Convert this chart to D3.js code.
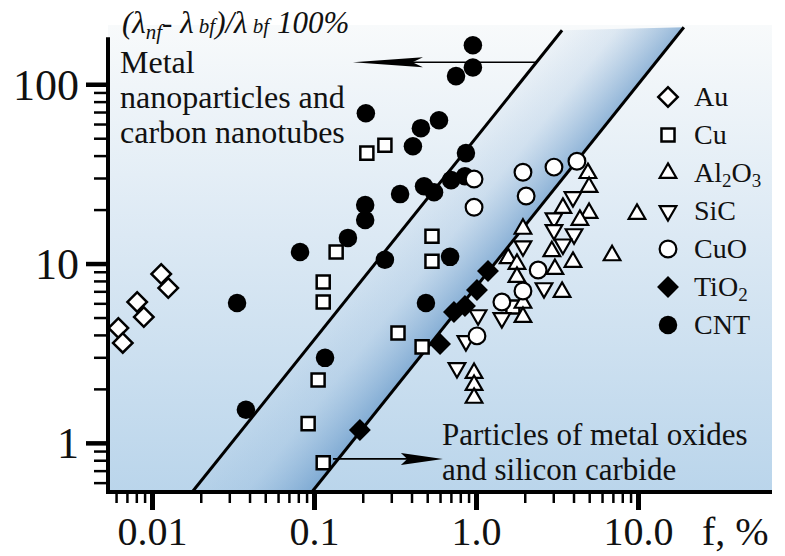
<!DOCTYPE html>
<html>
<head>
<meta charset="utf-8">
<script src="https://cdn.jsdelivr.net/npm/d3@7"></script>
<style>
  html, body { margin:0; padding:0; background:#fff; }
  svg { display:block; font-family:"Liberation Serif", "DejaVu Serif", serif; }
</style>
</head>
<body>
<div id="chart"></div>
<script>
// values: [f %, enhancement %]
const au   = [[0.0062,4.37],[0.0066,3.61],[0.0081,6.1],[0.0089,5.03],[0.0114,8.74],[0.0126,7.3]];
const cu   = [[0.212,41.3],[0.274,45.7],[0.137,11.6],[0.114,7.89],[0.114,6.1],[0.535,14.2],[0.535,10.3],
              [0.106,2.24],[0.092,1.28],[0.114,0.774],[0.33,4.1],[0.465,3.43],[1.69,5.72]];
const al2o3= [[4.91,31.9],[4.99,26.7],[3.44,20.4],[4.99,19.1],[4.38,17.5],[9.86,18.9],[1.95,15.6],
              [2.94,11.7],[3.97,10.2],[6.92,11.1],[1.58,10.7],[1.79,9.94],[3.07,9.31],[1.79,8.41],
              [3.4,6.94],[1.95,6.03],[1.95,5.03],[0.973,2.45],[0.973,2.1],[0.973,1.78]];
const sic  = [[3.97,23.5],[3.03,17.9],[3.03,15.4],[4.03,14.6],[3.44,12.8],[1.95,12.5],[2.63,7.3],
              [1.03,5.16],[1.445,4.97],[0.867,3.7],[0.763,2.62]];
const cuo  = [[0.973,29.6],[0.973,20.6],[1.95,32.3],[2.04,23.8],[3.03,34.5],[4.2,37.2],[2.42,9.2],
              [1.95,7.03],[1.445,6.1],[1.014,3.95]];
const tio2 = [[0.192,1.18],[0.6,3.56],[0.731,5.37],[0.855,5.8],[1.014,7.12],[1.186,9.08]];
const cnt  = [[0.957,165],[0.957,124],[0.753,111],[0.209,68.9],[0.457,56.9],[0.591,63],[0.408,45.1],
              [0.867,41.3],[0.34,24.4],[0.478,27],[0.551,25],[0.702,29.2],[0.855,30.7],[0.207,21.2],
              [0.207,17.5],[0.162,13.9],[0.082,11.6],[0.692,10.9],[0.491,6.03],[0.274,10.5],
              [0.0335,6.03],[0.117,2.98],[0.038,1.53]];

// band borders and arrows, in data units
const bandLeft  = [[0.0177,0.532],[3.4,200]];
const bandRight = [[0.097,0.532],[19.2,208]];
const arrowUp   = [[2.35,132.6],[0.174,132.6]];
const arrowDown = [[0.131,0.814],[0.625,0.814]];

const xMajor = [0.01,0.1,1,10], xLabels = ['0.01','0.1','1.0','10.0'];
const xMinor = [0.006,0.007,0.008,0.009,0.02,0.03,0.04,0.05,0.06,0.07,0.08,0.09,
                0.2,0.3,0.4,0.5,0.6,0.7,0.8,0.9,2,3,4,5,6,7,8,9];
const yMajor = [1,10,100], yLabels = ['1','10','100'];
const yMinor = [0.6,0.7,0.8,0.9,2,3,4,5,6,7,8,9,20,30,40,50,60,70,80,90];

const W=785, H=556;
const svg = d3.select('#chart').append('svg').attr('width',W).attr('height',H);
const defs = svg.append('defs');

const x = d3.scaleLog().domain([0.00535, 67.2]).range([108, 772]);
const y = d3.scaleLog().domain([0.532, 214]).range([492, 25]);
const pt = d => [x(d[0]), y(d[1])];

// background
const bg = defs.append('linearGradient').attr('id','bg').attr('x1',0).attr('y1',0).attr('x2',0).attr('y2',1);
bg.append('stop').attr('offset','0%').attr('stop-color','#f8fafb');
bg.append('stop').attr('offset','45%').attr('stop-color','#dce9f4');
bg.append('stop').attr('offset','100%').attr('stop-color','#bad5eb');
svg.append('rect').attr('x',x.range()[0]).attr('y',y.range()[1])
  .attr('width',x.range()[1]-x.range()[0]).attr('height',y.range()[0]-y.range()[1])
  .attr('fill','url(#bg)');

// band, shaded across its width
const p1 = pt(bandLeft[0]), p2 = pt(bandLeft[1]), q1 = pt(bandRight[0]);
const dx = p2[0]-p1[0], dy = p2[1]-p1[1], len = Math.hypot(dx,dy);
const nx = -dy/len, ny = dx/len;
const dist = (q1[0]-p1[0])*nx + (q1[1]-p1[1])*ny;
const bandGrad = defs.append('linearGradient').attr('id','band').attr('gradientUnits','userSpaceOnUse')
  .attr('x1',p1[0]).attr('y1',p1[1]).attr('x2',p1[0]+nx*dist).attr('y2',p1[1]+ny*dist);
bandGrad.append('stop').attr('offset','0%').attr('stop-color','#7ea8d2').attr('stop-opacity',0.08);
bandGrad.append('stop').attr('offset','45%').attr('stop-color','#7ea8d2').attr('stop-opacity',0.22);
bandGrad.append('stop').attr('offset','100%').attr('stop-color','#5f93c6').attr('stop-opacity',0.65);
svg.append('path')
  .attr('d', d3.line()([pt(bandLeft[0]), pt(bandLeft[1]), pt(bandRight[1]), pt(bandRight[0])]) + 'Z')
  .attr('fill','url(#band)');

const line = d3.line().x(d=>x(d[0])).y(d=>y(d[1]));
[bandLeft, bandRight].forEach(b => svg.append('path').attr('d', line(b))
  .attr('fill','none').attr('stroke','#000').attr('stroke-width',3));

// arrows
function arrow(a, headLen, half){
  const s = pt(a[0]), e = pt(a[1]);
  const dir = Math.sign(e[0]-s[0]);
  svg.append('line').attr('x1',s[0]).attr('y1',s[1]).attr('x2',e[0]-dir*headLen*0.5).attr('y2',e[1])
    .attr('stroke','#000').attr('stroke-width',1.6);
  const b = e[0]-dir*headLen;
  svg.append('path')
    .attr('d',`M${e[0]},${e[1]} L${b},${e[1]-half} L${b+dir*headLen*0.15},${e[1]} L${b},${e[1]+half} Z`)
    .attr('fill','#000');
}
arrow(arrowUp, 70, 5);
arrow(arrowDown, 42, 6);

// axes
const gx = svg.append('g').attr('transform',`translate(0,${y.range()[0]})`);
gx.append('g').call(d3.axisBottom(x).tickValues(xMinor).tickSize(11).tickFormat(''))
  .call(g=>g.selectAll('line').attr('stroke-width',2.5));
gx.append('g').call(d3.axisBottom(x).tickValues(xMajor).tickSize(18).tickFormat((d,i)=>xLabels[i]))
  .call(g=>g.selectAll('line').attr('stroke-width',5))
  .call(g=>g.selectAll('text').attr('y',53).attr('dy',0).attr('font-size',40).attr('fill','#111')
    .attr('font-family','"Liberation Serif", serif'));
gx.selectAll('.domain').remove();
gx.append('line').attr('x1',106).attr('x2',x.range()[1]).attr('stroke','#000').attr('stroke-width',4);

const gy = svg.append('g').attr('transform',`translate(${x.range()[0]},0)`);
gy.append('g').call(d3.axisLeft(y).tickValues(yMinor).tickSize(14).tickFormat(''))
  .call(g=>g.selectAll('line').attr('stroke-width',2.5));
gy.append('g').call(d3.axisLeft(y).tickValues(yMajor).tickSize(22).tickFormat((d,i)=>yLabels[i]))
  .call(g=>g.selectAll('line').attr('stroke-width',4.5))
  .call(g=>g.selectAll('text').attr('x',-29).attr('dy','0.34em').attr('font-size',44).attr('fill','#111')
    .attr('font-family','"Liberation Serif", serif'));
gy.selectAll('.domain').remove();
gy.append('line').attr('y1',y(183)).attr('y2',y.range()[0]+2).attr('stroke','#000').attr('stroke-width',4);

svg.append('text').attr('x',702).attr('y',545).attr('font-size',40).attr('fill','#111').text('f, %');

// series
const series = [
  {name:'Au',    data:au,    type:d3.symbolSquare,   size:190, rot:45,  fill:'#fff', sw:2.5},
  {name:'Cu',    data:cu,    type:d3.symbolSquare,   size:170, rot:0,   fill:'#fff', sw:2.5},
  {name:'CNT',   data:cnt,   type:d3.symbolCircle,   size:270, rot:0,   fill:'#000', sw:0},
  {name:'TiO2',  data:tio2,  type:d3.symbolSquare,   size:240, rot:45,  fill:'#000', sw:0},
  {name:'SiC',   data:sic,   type:d3.symbolTriangle, size:120, rot:180, fill:'#fff', sw:2.2},
  {name:'Al2O3', data:al2o3, type:d3.symbolTriangle, size:120, rot:0,   fill:'#fff', sw:2.2},
  {name:'CuO',   data:cuo,   type:d3.symbolCircle,   size:220, rot:0,   fill:'#fff', sw:2.2}
];
series.forEach(s => {
  const path = d3.symbol().type(s.type).size(s.size)();
  svg.append('g').selectAll('path').data(s.data).join('path')
    .attr('d', path)
    .attr('transform', d => `translate(${x(d[0])},${y(d[1])}) rotate(${s.rot})`)
    .attr('fill', s.fill).attr('stroke','#000').attr('stroke-width', s.sw);
});

// legend
const legendOrder = ['Au','Cu','Al2O3','SiC','CuO','TiO2','CNT'];
const leg = svg.append('g').attr('transform','translate(668,97)');
legendOrder.forEach((n,i) => {
  const s = series.find(d=>d.name===n);
  const row = leg.append('g').attr('transform',`translate(0,${i*38})`);
  row.append('path').attr('d', d3.symbol().type(s.type).size(s.size)())
    .attr('transform',`rotate(${s.rot})`)
    .attr('fill', s.fill).attr('stroke','#000').attr('stroke-width', s.sw);
  const t = row.append('text').attr('x',26).attr('y',9).attr('font-size',28).attr('fill','#111');
  if (n==='Al2O3') { t.text('Al'); t.append('tspan').attr('font-size',19).attr('dy',5).text('2');
    t.append('tspan').attr('dy',-5).text('O'); t.append('tspan').attr('font-size',19).attr('dy',5).text('3'); }
  else if (n==='TiO2') { t.text('TiO'); t.append('tspan').attr('font-size',19).attr('dy',5).text('2'); }
  else t.text(n);
});

// annotations
const title = svg.append('text').attr('x',122).attr('y',33).attr('font-size',31)
  .attr('font-style','italic').attr('fill','#111');
title.append('tspan').text('(λ');
title.append('tspan').attr('font-size',21).attr('dy',6).text('nf');
title.append('tspan').attr('dy',-6).text('- λ');
title.append('tspan').attr('font-size',21).text(' bf');
title.append('tspan').text(')/λ');
title.append('tspan').attr('font-size',21).text(' bf');
title.append('tspan').text(' 100%');

const note1 = svg.append('text').attr('font-size',32).attr('fill','#111');
['Metal','nanoparticles and','carbon nanotubes'].forEach((s,i) =>
  note1.append('tspan').attr('x',120).attr('y',73+i*35).text(s));
const note2 = svg.append('text').attr('font-size',31).attr('fill','#111');
['Particles of metal oxides','and silicon carbide'].forEach((s,i) =>
  note2.append('tspan').attr('x',442).attr('y',445+i*35).text(s));
</script>
</body>
</html>
